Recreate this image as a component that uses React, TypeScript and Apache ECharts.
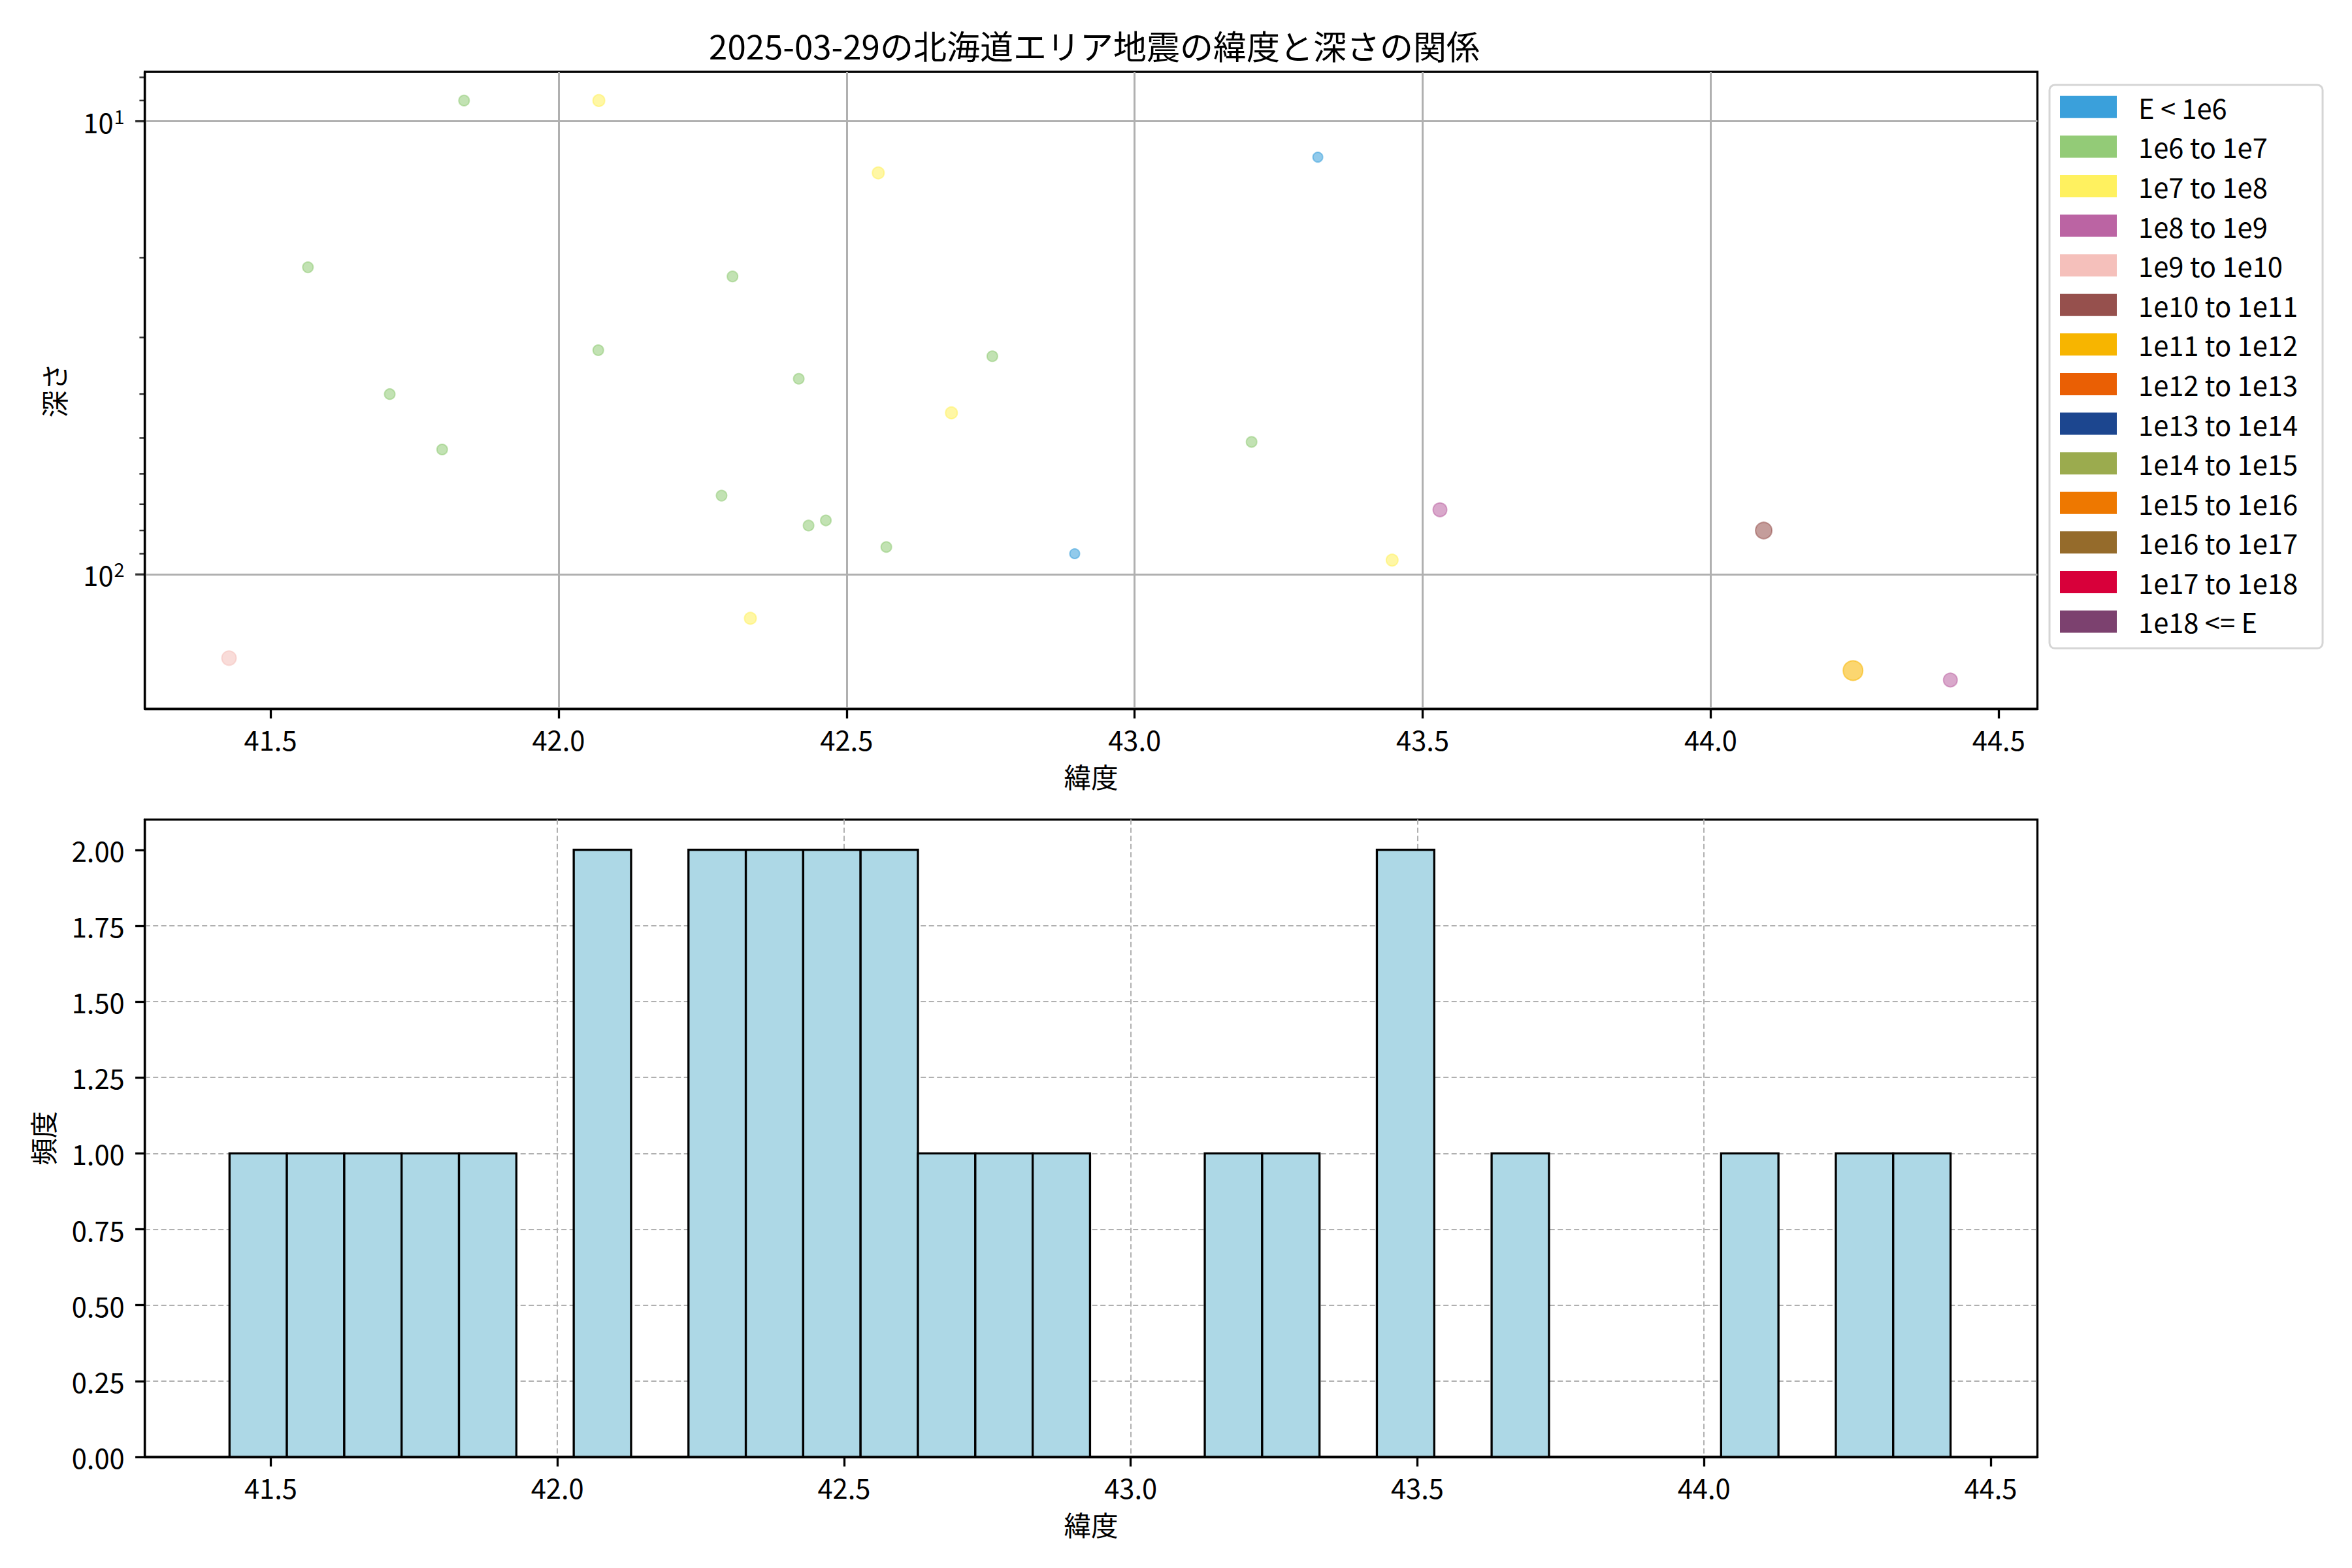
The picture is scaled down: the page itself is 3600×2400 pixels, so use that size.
import React, { useEffect, useRef } from "react";
import * as echarts from "echarts";

// ---------- data ----------
const energyCategories = [
  "E < 1e6",
  "1e6 to 1e7",
  "1e7 to 1e8",
  "1e8 to 1e9",
  "1e9 to 1e10",
  "1e10 to 1e11",
  "1e11 to 1e12",
  "1e12 to 1e13",
  "1e13 to 1e14",
  "1e14 to 1e15",
  "1e15 to 1e16",
  "1e16 to 1e17",
  "1e17 to 1e18",
  "1e18 <= E",
];

// latitude (deg), depth (km), energy class index per earthquake
const latitudes = [
  41.428, 41.565, 41.707, 41.798, 41.836, 42.07, 42.069, 42.283, 42.302, 42.333,
  42.417, 42.434, 42.464, 42.555, 42.569, 42.682, 42.753, 42.896, 43.203, 43.318,
  43.447, 43.53, 43.68, 44.092, 44.247, 44.416,
];
const depths = [
  153, 21, 40, 53, 9, 9, 32, 67, 22, 125,
  37, 78, 76, 13, 87, 44, 33, 90, 51, 12,
  93, 72, 0, 80, 163, 171,
];
const energyClass = [
  4, 1, 1, 1, 1, 2, 1, 1, 1, 2,
  1, 1, 1, 2, 1, 2, 1, 0, 1, 0,
  2, 3, 1, 5, 6, 3,
];

// histogram (30 bins)
const histCounts = [
  1, 1, 1, 1, 1, 0, 2, 0, 2, 2,
  2, 2, 1, 1, 1, 0, 0, 1, 1, 0,
  2, 0, 1, 0, 0, 0, 1, 0, 1, 1,
];
const histStart = 41.428;
const histEnd = 44.43;

const xTickValues = [41.5, 42.0, 42.5, 43.0, 43.5, 44.0, 44.5];
const freqTickValues = [0, 0.25, 0.5, 0.75, 1.0, 1.25, 1.5, 1.75, 2.0];
const depthMajorTicks = [10, 100];
const depthMinorTicks = [8, 9, 20, 30, 40, 50, 60, 70, 80, 90];

// ---------- styles ----------
const categoryColors = [
  "#3aa0db", "#93cb77", "#fff15f", "#bb64a3", "#f5c0bb", "#96504d", "#f7b500",
  "#ea5f04", "#1c468f", "#9bab4e", "#ee7800", "#956b2b", "#d8003a", "#7c416f",
];
const markerSizeByClass = [15, 16, 18, 21, 22, 25, 30, 30, 30, 30, 30, 30, 30, 30];

const FONT = "'Noto Sans CJK JP', 'Noto Sans', sans-serif";
const FS = 41.7;

const topRange = [41.2819, 44.5671];
const botRange = [41.2803, 44.5815];
const depthRange = [7.78, 198.0];

function hexToRgba(hex: string, a: number) {
  const r = parseInt(hex.slice(1, 3), 16);
  const g = parseInt(hex.slice(3, 5), 16);
  const b = parseInt(hex.slice(5, 7), 16);
  return `rgba(${r},${g},${b},${a})`;
}

export default function App() {
  const ref = useRef<HTMLDivElement>(null);

  useEffect(() => {
    document.body.style.margin = "0";
    if (!ref.current) return;
    const chart = echarts.init(ref.current, undefined, { renderer: "svg" });

    const scatterSeries = energyCategories.map((name, ci) => ({
      name,
      type: "scatter",
      xAxisIndex: 0,
      yAxisIndex: 0,
      symbol: "circle",
      symbolSize: markerSizeByClass[ci],
      itemStyle: {
        color: hexToRgba(categoryColors[ci], 0.7),
        borderColor: hexToRgba(categoryColors[ci], 0.7),
        borderWidth: 2,
      },
      emphasis: { disabled: true },
      z: 3,
      data: latitudes
        .map((lat, i) => ({ lat, d: depths[i], c: energyClass[i] }))
        .filter((p) => p.c === ci && p.d > 0)
        .map((p) => [p.lat, p.d]),
    }));

    const binW = (histEnd - histStart) / histCounts.length;
    const histData = histCounts.map((c, i) => [
      histStart + i * binW,
      histStart + (i + 1) * binW,
      c,
    ]);

    const axisLineStyle = { lineStyle: { color: "#000", width: 3.3 } };
    const tickStyle = { length: 14.6, inside: false, lineStyle: { color: "#000", width: 3.3 } };

    const option: any = {
      animation: false,
      textStyle: { fontFamily: FONT, color: "#000" },
      title: {
        text: "2025-03-29の北海道エリア地震の緯度と深さの関係",
        left: 1670,
        top: 38,
        textAlign: "center",
        textStyle: { fontFamily: FONT, fontSize: 51, fontWeight: "normal", color: "#000" },
      },
      legend: {
        orient: "vertical",
        left: 3137,
        top: 130,
        padding: [13, 38, 20, 16],
        itemWidth: 87,
        itemHeight: 34,
        itemGap: 18.9,
        backgroundColor: "#fff",
        borderColor: "#d5d5d5",
        borderWidth: 3,
        borderRadius: 8,
        selectedMode: false,
        textStyle: { fontFamily: FONT, fontSize: FS, color: "#000", padding: [0, 0, 0, 28] },
        data: energyCategories.map((name, i) => ({
          name,
          icon: "rect",
          itemStyle: { color: categoryColors[i], opacity: 1, borderWidth: 0 },
        })),
      },
      grid: [
        {
          left: 221.7, top: 110, width: 2896.8, height: 975,
          show: true, borderColor: "#000", borderWidth: 3.3, backgroundColor: "transparent",
          containLabel: false, outerBoundsMode: "none",
        },
        {
          left: 221.7, top: 1254.3, width: 2896.8, height: 975.7,
          show: true, borderColor: "#000", borderWidth: 3.3, backgroundColor: "transparent",
          containLabel: false, outerBoundsMode: "none",
        },
      ],
      xAxis: [
        {
          type: "value", gridIndex: 0, min: topRange[0], max: topRange[1],
          name: "緯度", nameLocation: "middle", nameGap: 82,
          nameTextStyle: { fontFamily: FONT, fontSize: FS, color: "#000" },
          axisLine: axisLineStyle,
          axisTick: { ...tickStyle, customValues: xTickValues },
          axisLabel: {
            customValues: xTickValues, margin: 25, fontSize: FS, color: "#000", fontFamily: FONT,
            formatter: (v: number) => v.toFixed(1),
          },
          splitLine: {
            show: true, showMinLine: false, showMaxLine: false,
            lineStyle: { color: "#b0b0b0", width: 3, type: "solid" },
          },
        },
        {
          type: "value", gridIndex: 1, min: botRange[0], max: botRange[1],
          name: "緯度", nameLocation: "middle", nameGap: 82,
          nameTextStyle: { fontFamily: FONT, fontSize: FS, color: "#000" },
          axisLine: axisLineStyle,
          axisTick: { ...tickStyle, customValues: xTickValues },
          axisLabel: {
            customValues: xTickValues, margin: 25, fontSize: FS, color: "#000", fontFamily: FONT,
            formatter: (v: number) => v.toFixed(1),
          },
          splitLine: {
            show: true, showMinLine: false, showMaxLine: false,
            lineStyle: { color: "#b0b0b0", width: 2, type: [8, 4.5] },
          },
        },
      ],
      yAxis: [
        {
          type: "log", logBase: 10, gridIndex: 0, inverse: true,
          min: depthRange[0], max: depthRange[1],
          name: "深さ", nameLocation: "middle", nameGap: 119,
          nameTextStyle: { fontFamily: FONT, fontSize: FS, color: "#000" },
          axisLine: axisLineStyle,
          axisTick: { show: false },
          axisLabel: {
            margin: 31, showMinLabel: false, showMaxLabel: false,
            formatter: (v: number) => {
              const e = Math.log10(v);
              if (Math.abs(e - Math.round(e)) < 1e-6) return `{b|10}{s|${Math.round(e)}}`;
              return "";
            },
            rich: {
              b: { fontSize: FS, fontFamily: FONT, color: "#000" },
              s: { fontSize: 29, fontFamily: FONT, color: "#000", padding: [0, 0, 18, 1] },
            },
          },
          splitLine: {
            show: true, showMinLine: false, showMaxLine: false,
            lineStyle: { color: "#b0b0b0", width: 3, type: "solid" },
          },
        },
        {
          type: "value", gridIndex: 1, min: 0, max: 2.1, interval: 0.25,
          name: "頻度", nameLocation: "middle", nameGap: 136,
          nameTextStyle: { fontFamily: FONT, fontSize: FS, color: "#000" },
          axisLine: axisLineStyle,
          axisTick: { ...tickStyle, customValues: freqTickValues },
          axisLabel: {
            customValues: freqTickValues, margin: 31, fontSize: FS, color: "#000", fontFamily: FONT,
            formatter: (v: number) => v.toFixed(2),
          },
          splitLine: {
            show: true, showMinLine: false, showMaxLine: false,
            lineStyle: { color: "#b0b0b0", width: 2, type: [8, 4.5] },
          },
        },
      ],
      series: [
        ...scatterSeries,
        {
          name: "depthMajorTicks",
          type: "scatter", xAxisIndex: 0, yAxisIndex: 0, silent: true, clip: false,
          symbol: "rect", symbolSize: [14.6, 3.3], symbolOffset: [-7.3, 0],
          itemStyle: { color: "#000" }, z: 6,
          data: depthMajorTicks.map((d) => [topRange[0], d]),
        },
        {
          name: "depthMinorTicks",
          type: "scatter", xAxisIndex: 0, yAxisIndex: 0, silent: true, clip: false,
          symbol: "rect", symbolSize: [8.3, 2.5], symbolOffset: [-4.15, 0],
          itemStyle: { color: "#000" }, z: 6,
          data: depthMinorTicks.map((d) => [topRange[0], d]),
        },
        {
          name: "hist",
          type: "custom", xAxisIndex: 1, yAxisIndex: 1, silent: true, z: 3,
          encode: { x: [0, 1], y: 2 },
          data: histData,
          renderItem: (params: any, api: any) => {
            const p0 = api.coord([api.value(0), api.value(2)]);
            const p1 = api.coord([api.value(1), 0]);
            return {
              type: "rect",
              shape: { x: p0[0], y: p0[1], width: p1[0] - p0[0], height: p1[1] - p0[1] },
              style: { fill: "#add8e6", stroke: "#000", lineWidth: 3.3 },
            };
          },
        },
      ],
    };

    chart.setOption(option);
    return () => chart.dispose();
  }, []);

  return (
    <div
      ref={ref}
      style={{ position: "absolute", left: 0, top: 0, width: 3600, height: 2400, background: "#fff" }}
    />
  );
}
